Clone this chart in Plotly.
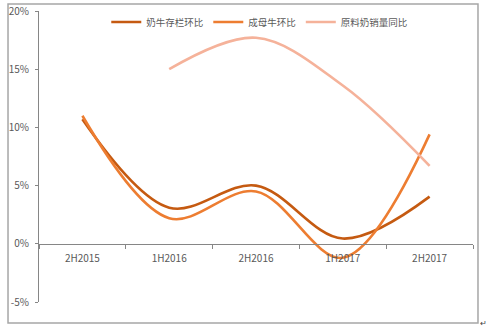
import plotly.graph_objects as go

# Half-year periods and growth rates (%)
periods = ["2H2015", "1H2016", "2H2016", "1H2017", "2H2017"]
herd_hoh = [10.7, 3.1, 5.0, 0.45, 4.05]          # 奶牛存栏环比
cow_hoh = [11.0, 2.2, 4.5, -1.2, 9.4]            # 成母牛环比
milk_yoy = [None, 15.0, 17.7, 13.6, 6.7]         # 原料奶销量同比

series_names = ["奶牛存栏环比", "成母牛环比", "原料奶销量同比"]
series_colors = ["#C55A11", "#ED7D31", "#F5B29A"]
y_ticks = [-5, 0, 5, 10, 15, 20]
y_tick_text = [f"{v}%" for v in y_ticks]

axis_grey = "#868686"
text_grey = "#595959"
cjk_font = "Noto Sans CJK SC, Liberation Sans Narrow, Arial"
tick_font = "Liberation Sans Narrow, Noto Sans CJK SC, Arial"

fig = go.Figure()
for name, vals, col in zip(series_names, [herd_hoh, cow_hoh, milk_yoy], series_colors):
    fig.add_trace(go.Scatter(
        x=periods, y=vals, name=name, mode="lines",
        line=dict(color=col, width=2.6, shape="spline", smoothing=1.0),
        connectgaps=False,
    ))

fig.update_layout(
    width=487, height=330,
    margin=dict(l=39, r=14, t=11, b=28, autoexpand=False),
    paper_bgcolor="white", plot_bgcolor="white",
    showlegend=True,
    legend=dict(
        orientation="h", x=0.155, y=0.962, xanchor="left", yanchor="middle",
        font=dict(family=cjk_font, size=9.5, color=text_grey),
        bgcolor="rgba(0,0,0,0)", itemwidth=30, tracegroupgap=0,
    ),
    xaxis=dict(
        type="category", range=[-0.5, 4.5],
        anchor="free", position=0.2,
        showline=True, linecolor=axis_grey, linewidth=1,
        ticks="outside", tickson="boundaries", ticklen=4, tickcolor=axis_grey,
        showgrid=False, zeroline=False,
        tickfont=dict(family=tick_font, size=10, color=text_grey),
        ticklabelstandoff=5,
    ),
    yaxis=dict(
        range=[-5, 20], tickvals=y_ticks, ticktext=y_tick_text,
        showline=True, linecolor=axis_grey, linewidth=1,
        ticks="outside", ticklen=3, tickcolor=axis_grey,
        showgrid=False, zeroline=False,
        tickfont=dict(family=tick_font, size=10, color=text_grey),
        ticklabelstandoff=4,
    ),
)

# Outer frame around the whole chart
fig.add_shape(type="rect", xref="paper", yref="paper",
              x0=-0.0714, x1=1.0115, y0=-0.0722, y1=1.024,
              line=dict(color="#A6A6A6", width=1.5), fillcolor="rgba(0,0,0,0)",
              layer="below")

# Paragraph mark after the chart
fig.add_annotation(text="↵", xref="paper", yref="paper", x=1.0125, y=-0.072,
                   xanchor="left", yanchor="middle", showarrow=False,
                   font=dict(size=8, color="#404040"))

fig.write_html("out.html")
